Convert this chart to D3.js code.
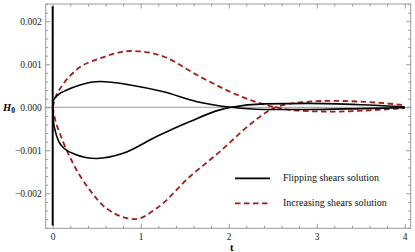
<!DOCTYPE html>
<html lang="en">
<head>
    <meta charset="UTF-8">
    <title>H0 flipping vs increasing shears</title>
    <script src="https://cdnjs.cloudflare.com/ajax/libs/d3/7.8.5/d3.min.js"></script>
    <style>
        body { margin: 0; background: #fff; }
        svg { display: block; font-family: "Liberation Serif", "DejaVu Serif", serif; }
    </style>
</head>
<body>
    <div id="chart"></div>

    <script>
    // Tick labels
    const xTicks = [0, 1, 2, 3, 4];
    const yTicks = [-0.002, -0.001, 0, 0.001, 0.002];

    // Flipping shears solution (two branches + the spike at t = 0)
    const flipSpike = [[0, 0.00235], [0, -0.00275]];
    const flipUpper = [[0, 0], [0.01, 0.00017], [0.06, 0.00029], [0.16, 0.0004], [0.31, 0.00052], [0.54, 0.0006],
        [0.88, 0.00052], [1.26, 0.00036], [1.64, 0.00013], [2.03, 0], [2.4, -0.00005], [2.9, -0.00005],
        [3.5, -0.00003], [4, -0.00001]];
    const flipLower = [[0, 0], [0.01, -0.00035], [0.03, -0.00056], [0.07, -0.0008], [0.14, -0.00097], [0.25, -0.00109],
        [0.5, -0.00119], [0.8, -0.00107], [1.18, -0.00068], [1.56, -0.00033], [1.9, -0.00006], [2.03, 0],
        [2.4, 0.00008], [2.9, 0.00009], [3.5, 0.00006], [4, 0.00001]];

    // Increasing shears solution
    const incUpper = [[0, 0], [0.03, 0.00022], [0.1, 0.00048], [0.27, 0.00087], [0.54, 0.00114], [0.9, 0.00131],
        [1.26, 0.00118], [1.64, 0.00075], [2.05, 0.00033], [2.3, 0.00013], [2.53, 0], [2.9, -0.00009],
        [3.2, -0.0001], [3.6, -0.00007], [4, -0.00002]];
    const incLower = [[0, 0], [0.03, -0.0003], [0.08, -0.0006], [0.23, -0.0013], [0.42, -0.00192], [0.61, -0.00235],
        [0.94, -0.0026], [1.18, -0.00235], [1.56, -0.00161], [1.9, -0.00103], [2.26, -0.00037], [2.53, 0],
        [2.85, 0.00012], [3.15, 0.00015], [3.6, 0.00012], [4, 0.00005]];

    const legendItems = ["Flipping shears solution", "Increasing shears solution"];

    const W = 415, H = 252;
    const margin = {top: 4, right: 4.3, bottom: 23.7, left: 45.7};
    const width = W - margin.left - margin.right;
    const height = H - margin.top - margin.bottom;

    const x = d3.scaleLinear().domain([-0.0795, 4.068]).range([0, width]);
    const y = d3.scaleLinear().domain([-0.002814, 0.002402]).range([height, 0]);

    const svg = d3.select("#chart").append("svg")
        .attr("width", W).attr("height", H);
    const g = svg.append("g").attr("transform", `translate(${margin.left},${margin.top})`);

    const frameColor = "#999";
    const fmt = d => d === 0 ? "0.000" : d3.format(".3f")(d).replace("-", "\u2212");

    // zero line
    g.append("line")
        .attr("x1", 0).attr("x2", width)
        .attr("y1", y(0)).attr("y2", y(0))
        .attr("stroke", "#999").attr("stroke-width", 1);

    // frame ticks (inward), major + minor
    const xMinor = d3.range(0, 4.01, 0.2).filter(v => Math.abs(v - Math.round(v)) > 1e-6);
    const yMinor = d3.range(-0.0028, 0.00241, 0.0002).filter(v => Math.abs(v / 0.001 - Math.round(v / 0.001)) > 1e-6);

    function styleAxis(sel) {
        sel.select(".domain").remove();
        sel.selectAll(".tick line").attr("stroke", frameColor);
        sel.selectAll("text").attr("font-family", "Liberation Serif, serif").attr("font-size", 9.5).attr("fill", "#222");
    }

    g.append("g").attr("transform", `translate(0,${height})`)
        .call(d3.axisBottom(x).tickValues(xTicks).tickSize(-4.5).tickPadding(4.5).tickFormat(d3.format("d")))
        .call(styleAxis);
    g.append("g").attr("transform", `translate(0,${height})`)
        .call(d3.axisBottom(x).tickValues(xMinor).tickSize(-2.5).tickFormat(""))
        .call(styleAxis);
    g.append("g")
        .call(d3.axisTop(x).tickValues(xTicks).tickSize(-4.5).tickFormat(""))
        .call(styleAxis);
    g.append("g")
        .call(d3.axisTop(x).tickValues(xMinor).tickSize(-2.5).tickFormat(""))
        .call(styleAxis);

    g.append("g")
        .call(d3.axisLeft(y).tickValues(yTicks).tickSize(-4.5).tickPadding(4).tickFormat(fmt))
        .call(styleAxis);
    g.append("g")
        .call(d3.axisLeft(y).tickValues(yMinor).tickSize(-2.5).tickFormat(""))
        .call(styleAxis);
    g.append("g").attr("transform", `translate(${width},0)`)
        .call(d3.axisRight(y).tickValues(yTicks).tickSize(-4.5).tickFormat(""))
        .call(styleAxis);
    g.append("g").attr("transform", `translate(${width},0)`)
        .call(d3.axisRight(y).tickValues(yMinor).tickSize(-2.5).tickFormat(""))
        .call(styleAxis);

    // frame
    g.append("rect")
        .attr("width", width).attr("height", height)
        .attr("fill", "none").attr("stroke", frameColor).attr("stroke-width", 1);

    // curves
    const line = d3.line()
        .x(d => x(d[0]))
        .y(d => y(d[1]))
        .curve(d3.curveMonotoneX);

    const red = "#a51d17";
    const dash = "5.5,3.5";

    const plot = g.append("g");
    plot.append("path").datum(incUpper).attr("d", line)
        .attr("fill", "none").attr("stroke", red).attr("stroke-width", 1.8).attr("stroke-dasharray", dash);
    plot.append("path").datum(incLower).attr("d", line)
        .attr("fill", "none").attr("stroke", red).attr("stroke-width", 1.8).attr("stroke-dasharray", dash);
    plot.append("path").datum(flipUpper).attr("d", line)
        .attr("fill", "none").attr("stroke", "#000").attr("stroke-width", 1.6);
    plot.append("path").datum(flipLower).attr("d", line)
        .attr("fill", "none").attr("stroke", "#000").attr("stroke-width", 1.6);
    plot.append("path").datum(flipSpike).attr("d", d3.line().x(d => x(d[0])).y(d => y(d[1])))
        .attr("fill", "none").attr("stroke", "#000").attr("stroke-width", 2);

    // legend
    const legend = svg.append("g").attr("transform", "translate(235,178.3)");
    legendItems.forEach((label, i) => {
        const row = legend.append("g").attr("transform", `translate(0,${i * 25})`);
        row.append("line")
            .attr("x1", 0).attr("x2", 35).attr("y1", 0).attr("y2", 0)
            .attr("stroke", i === 0 ? "#000" : red)
            .attr("stroke-width", 1.8)
            .attr("stroke-dasharray", i === 0 ? null : dash);
        row.append("text")
            .attr("x", 48).attr("y", 3)
            .attr("font-size", 10).attr("fill", "#111")
            .text(label);
    });

    // axis labels
    const yl = svg.append("text")
        .attr("x", 3).attr("y", 110.5)
        .attr("font-size", 10.5).attr("font-weight", "bold").attr("font-style", "italic");
    yl.append("tspan").text("H");
    yl.append("tspan").attr("font-size", 7.5).attr("dy", 2.5).attr("font-style", "normal").text("0");

    svg.append("text")
        .attr("x", margin.left + x(2) + 3).attr("y", 250.5)
        .attr("text-anchor", "middle")
        .attr("font-size", 10.5).attr("font-weight", "bold")
        .text("t");
    </script>
</body>
</html>
